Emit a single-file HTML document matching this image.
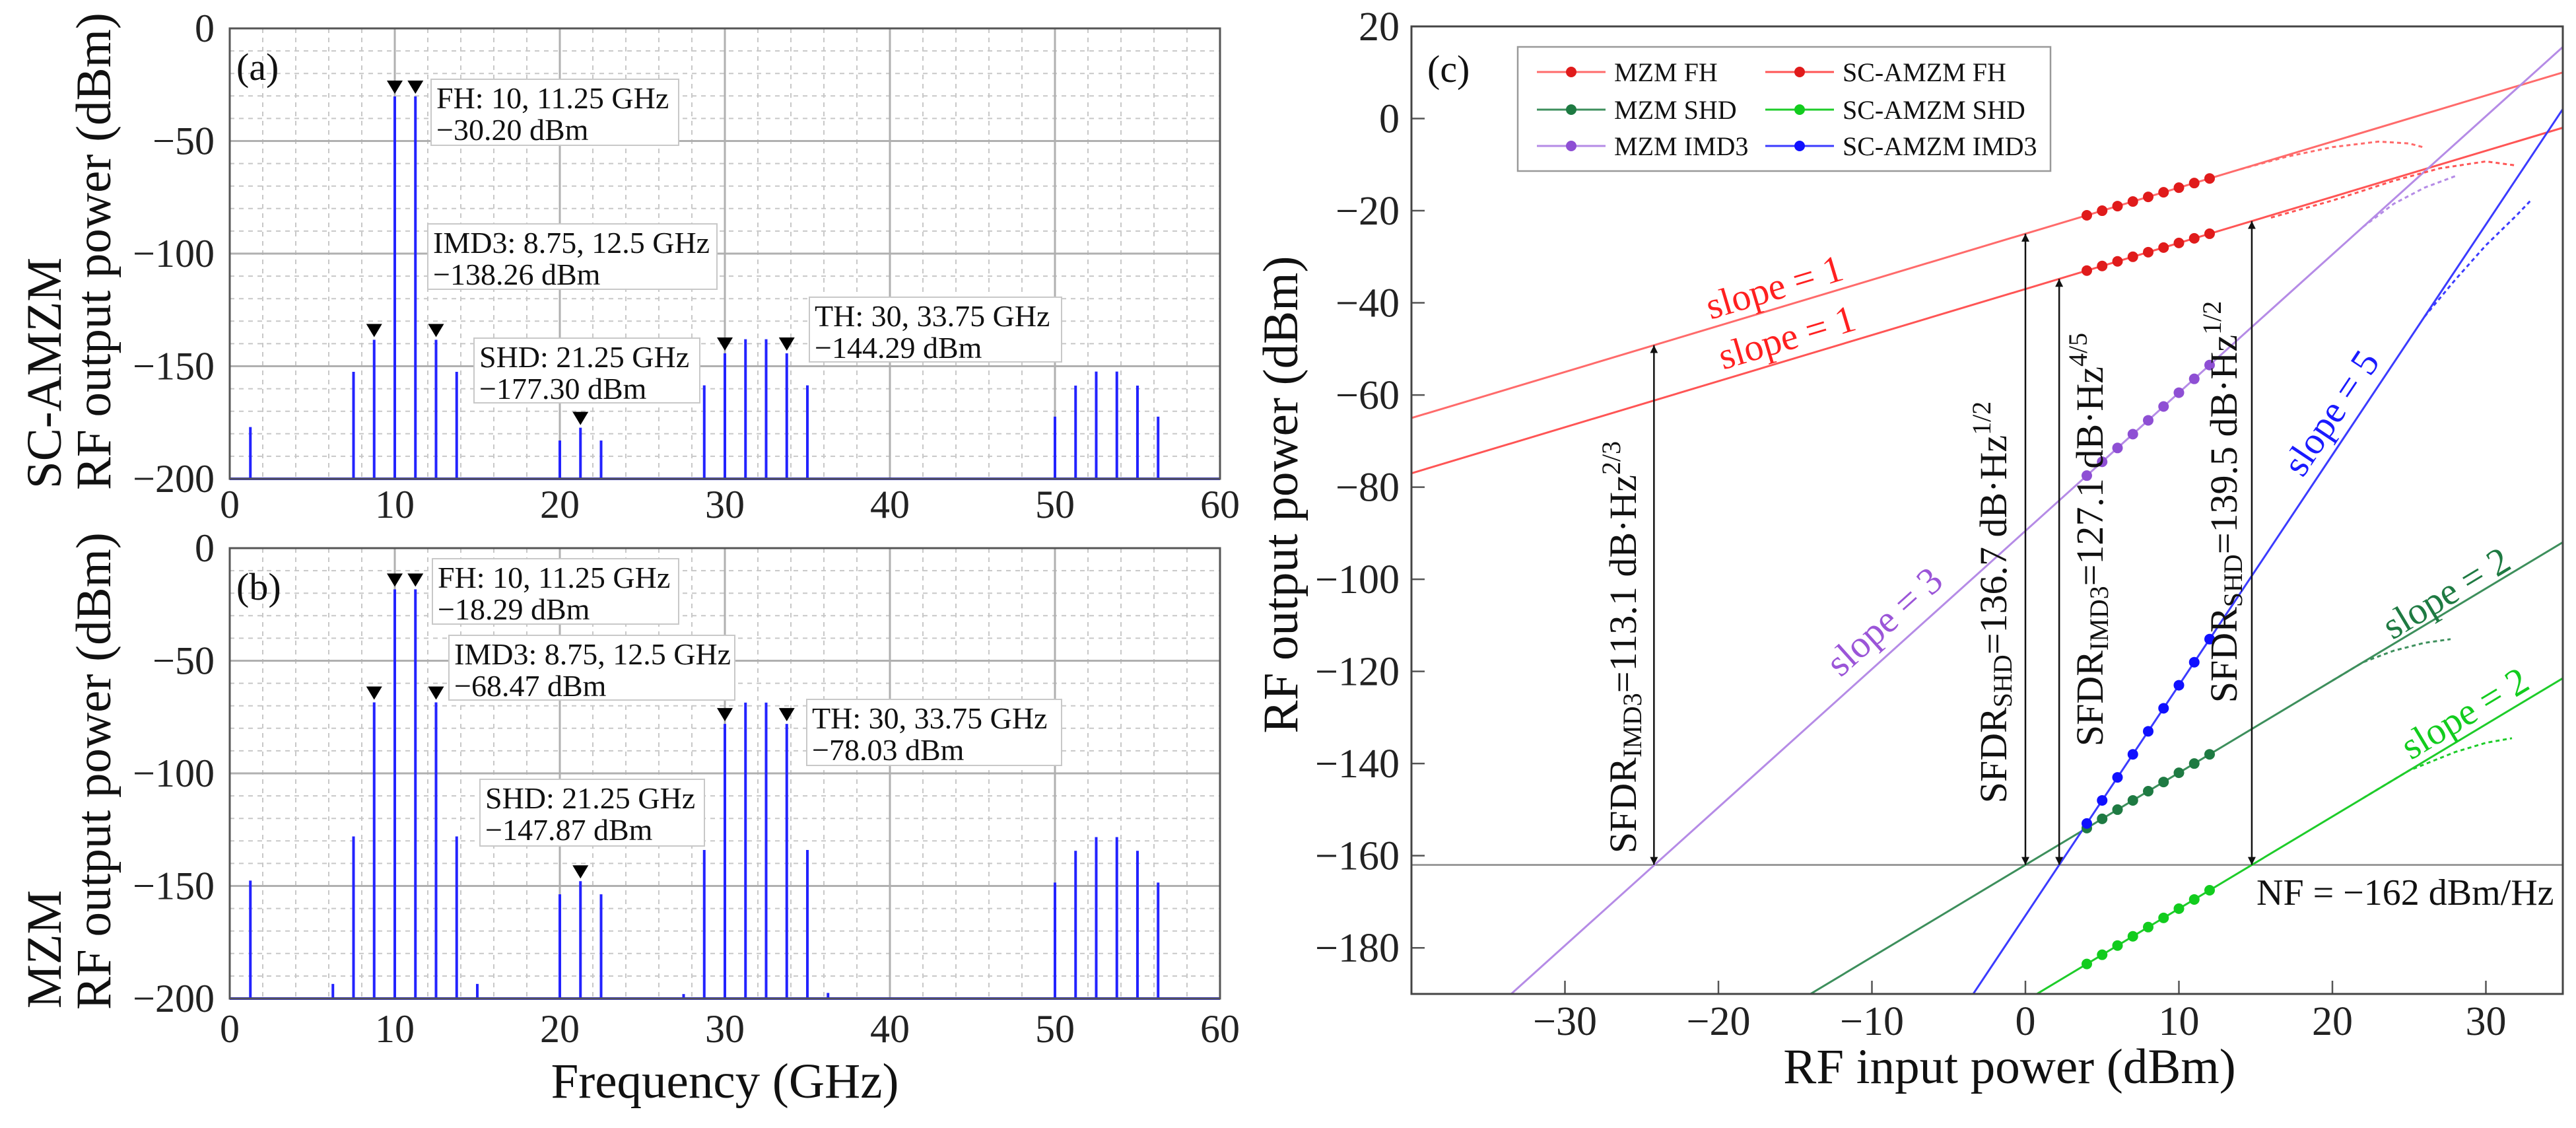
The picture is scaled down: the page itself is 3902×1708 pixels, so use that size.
<!DOCTYPE html>
<html><head><meta charset="utf-8"><style>
html,body{margin:0;padding:0;background:#fff;width:3902px;height:1708px;overflow:hidden;}
svg{display:block;font-family:"Liberation Serif","DejaVu Serif",serif;}
</style></head><body>
<svg id="fig" xmlns="http://www.w3.org/2000/svg" width="3902" height="1708" viewBox="0 0 3902 1708">
<defs>
<clipPath id="clipC"><rect x="2138" y="40" width="1744" height="1465"/></clipPath>
<marker id="arrowEnd" viewBox="0 0 10 10" refX="10" refY="5" markerWidth="12" markerHeight="14" orient="auto-start-reverse" markerUnits="userSpaceOnUse"><path d="M0,0 L10,5 L0,10 z" fill="#111"/></marker>
</defs>
<rect width="3902" height="1708" fill="#fff"/>
<g id="panelA"></g>
<g id="panelB"></g>
<g id="panelC"></g>
</svg>
<script>
// ---------- Panel (a)/(b) data ----------
const specFreqA = [1.25,7.5,8.75,10,11.25,12.5,13.75,20,21.25,22.5,28.75,30,31.25,32.5,33.75,35,50,51.25,52.5,53.75,55,56.25];
const specPowA  = [-177,-152.5,-138.26,-30.2,-30.2,-138.26,-152.5,-183,-177.3,-183,-158.5,-144.29,-138,-138,-144.29,-158.5,-172.4,-158.6,-152.4,-152.4,-158.6,-172.4];
const specFreqB = [1.25,6.25,7.5,8.75,10,11.25,12.5,13.75,15,20,21.25,22.5,27.5,28.75,30,31.25,32.5,33.75,35,36.25,50,51.25,52.5,53.75,55,56.25];
const specPowB  = [-147.6,-193.5,-128,-68.47,-18.29,-18.29,-68.47,-128,-193.5,-153.7,-147.87,-153.7,-198,-134,-78.03,-68.6,-68.6,-78.03,-134,-197.5,-148.5,-134.4,-128.3,-128.3,-134.4,-148.5];
const markerFreqs = [8.75,10,11.25,12.5,21.25,30,33.75];
const specXTicks = [0,10,20,30,40,50,60];
const specYTicks = [0,-50,-100,-150,-200];

// ---------- Panel (c) data ----------
const inXTicks = [-30,-20,-10,0,10,20,30];
const outYTicks = [20,0,-20,-40,-60,-80,-100,-120,-140,-160,-180];
const seriesNames = ["MZM FH","SC-AMZM FH","MZM SHD","SC-AMZM SHD","MZM IMD3","SC-AMZM IMD3"];
const seriesSlopes = [1,1,2,2,3,5];
const seriesIntercepts = [-25,-37,-162,-191.5,-89.5,-173];
const dotInputs = [4,5,6,7,8,9,10,11,12];
const dotsMzmFH   = [-21,-20,-19,-18,-17,-16,-15,-14,-13];
const dotsScFH    = [-33,-32,-31,-30,-29,-28,-27,-26,-25];
const dotsMzmSHD  = [-154,-152,-150,-148,-146,-144,-142,-140,-138];
const dotsScSHD   = [-183.5,-181.5,-179.5,-177.5,-175.5,-173.5,-171.5,-169.5,-167.5];
const dotsMzmIMD3 = [-77.5,-74.5,-71.5,-68.5,-65.5,-62.5,-59.5,-56.5,-53.5];
const dotsScIMD3  = [-153,-148,-143,-138,-133,-128,-123,-118,-113];
const satMzmFHx = [14,17,20,23,25,26];       const satMzmFHy = [-11,-8.3,-6.2,-5.0,-5.4,-6.3];
const satScFHx  = [16,20,24,27,30,32];       const satScFHy  = [-21.5,-17.8,-13.5,-10.8,-9.3,-10.2];
const satMzmIMDx = [22,24,26,28];            const satMzmIMDy = [-23.5,-18.5,-15,-12.5];
const satScIMDx  = [26,28,30,32,33];         const satScIMDy  = [-43,-35,-27.5,-21,-17.5];
const satMzmSHDx = [20,22,24,26,27.7];       const satMzmSHDy = [-122,-118,-115.5,-113.8,-113];
const satScSHDx  = [22,25,28,30,31.7];       const satScSHDy  = [-147.5,-141.5,-137.5,-135.5,-134.5];
const sfdrInputs = [-24.2,0,2.2,14.75];
const sfdrTops = [-49.2,-25,-34.8,-22.25];
const noiseFloor = -162;

const NS = "http://www.w3.org/2000/svg";
function mk(parent, tag, attrs, text){
  const e = document.createElementNS(NS, tag);
  for (const k in attrs) e.setAttribute(k, attrs[k]);
  if (text !== undefined) e.textContent = text;
  parent.appendChild(e);
  return e;
}
function fmt(v){ return v < 0 ? "\u2212" + Math.abs(v) : String(v); }

function spectrum(g, top, freqs, pows, boxes, label, rowLabel, bottomY){
  const x = f => 348 + f * 25;
  const y = v => top + (-v) / 200 * 682;
  const L = 348, R = 1848, T = top, B = top + 682;
  for (let f = 2; f < 60; f += 2) {
    if (f % 10 === 0) continue;
    const l = mk(g, "line", {x1:x(f), x2:x(f), y1:T, y2:B, stroke:"#c8c8c8", "stroke-width":2, "stroke-dasharray":"7 7"});
    
    
  }
  for (let v = -10; v > -200; v -= 10) {
    if (v % 50 === 0) continue;
    const l = mk(g, "line", {x1:L, x2:R, y1:y(v), y2:y(v), stroke:"#c8c8c8", "stroke-width":2, "stroke-dasharray":"7 7"});
    
    
  }
  specXTicks.forEach(f => {
    if (f > 0 && f < 60) {
      const l = mk(g, "line", {x1:x(f), x2:x(f), y1:T, y2:B, stroke:"#b0b0b0", "stroke-width":3});
      
      
    }
    const t = mk(g, "text", {x:x(f), y:bottomY, "text-anchor":"middle", "font-size":60, fill:"#222"}, String(f));
    
    
  });
  specYTicks.forEach(v => {
    if (v < 0 && v > -200) {
      const l = mk(g, "line", {x1:L, x2:R, y1:y(v), y2:y(v), stroke:"#b0b0b0", "stroke-width":3});
      
      
    }
    const t = mk(g, "text", {x:325, y:y(v) + 20, "text-anchor":"end", "font-size":60, fill:"#222"}, fmt(v));
    
    
  });
  freqs.forEach((f, i) => {
    const s = mk(g, "line", {x1:x(f), x2:x(f), y1:B, y2:y(pows[i]), stroke:"#2323ff", "stroke-width":4});
    
    
  });
  const base = mk(g, "line", {x1:L, x2:R, y1:B, y2:B, stroke:"#2323ff", "stroke-width":4});
  
  
  markerFreqs.forEach(f => {
    const i = freqs.indexOf(f);
    const py = y(pows[i]) - 4;
    const p = mk(g, "path", {d:`M${x(f)-12},${py-20} L${x(f)+12},${py-20} L${x(f)},${py} Z`, fill:"#000"});
    
    
  });
  const fr = mk(g, "rect", {x:L, y:T, width:R-L, height:B-T, fill:"none", stroke:"#555", "stroke-width":3});
  
  
  boxes.forEach(b => {
    const bg = mk(g, "g", {});
    
    
    mk(bg, "rect", {x:b.x, y:b.y, width:b.w, height:b.h, fill:"#fff", stroke:"#c8c8c8", "stroke-width":2});
    mk(bg, "text", {x:b.x + 8, y:b.y + 44, "font-size":46, fill:"#111"}, b.l1);
    mk(bg, "text", {x:b.x + 8, y:b.y + 92, "font-size":46, fill:"#111"}, b.l2);
  });
  const pl = mk(g, "text", {x:358, y:top + 78, "font-size":58, fill:"#111"}, label);
  
  
  const t1 = mk(g, "text", {x:0, y:0, "font-size":75, fill:"#111", transform:`translate(92,${top+697}) rotate(-90)`}, rowLabel);
  
  
  const t2 = mk(g, "text", {x:0, y:0, "font-size":75, fill:"#111", transform:`translate(167,${top+699}) rotate(-90)`}, "RF output power (dBm)");
  
  
}

spectrum(document.getElementById("panelA"), 43, specFreqA, specPowA, [
  {name:"fh-annotation", x:653, y:120, w:375, h:100, l1:"FH: 10, 11.25 GHz", l2:"\u221230.20 dBm"},
  {name:"imd3-annotation", x:648, y:339, w:438, h:99, l1:"IMD3: 8.75, 12.5 GHz", l2:"\u2212138.26 dBm"},
  {name:"shd-annotation", x:718, y:512, w:342, h:98, l1:"SHD: 21.25 GHz", l2:"\u2212177.30 dBm"},
  {name:"th-annotation", x:1226, y:450, w:382, h:98, l1:"TH: 30, 33.75 GHz", l2:"\u2212144.29 dBm"}
], "(a)", "SC-AMZM", 784);

spectrum(document.getElementById("panelB"), 830, specFreqB, specPowB, [
  {name:"fh-annotation", x:655, y:846, w:373, h:99, l1:"FH: 10, 11.25 GHz", l2:"\u221218.29 dBm"},
  {name:"imd3-annotation", x:680, y:962, w:433, h:98, l1:"IMD3: 8.75, 12.5 GHz", l2:"\u221268.47 dBm"},
  {name:"shd-annotation", x:727, y:1180, w:340, h:101, l1:"SHD: 21.25 GHz", l2:"\u2212147.87 dBm"},
  {name:"th-annotation", x:1222, y:1059, w:386, h:100, l1:"TH: 30, 33.75 GHz", l2:"\u221278.03 dBm"}
], "(b)", "MZM", 1578);

const gA = document.getElementById("panelB");
const ft = mk(gA, "text", {x:1098, y:1662, "text-anchor":"middle", "font-size":75, fill:"#111"}, "Frequency (GHz)");



(function(){
  const g = document.getElementById("panelC");
  const L = 2138, R = 3882, T = 40, B = 1505;
  const x = p => L + (p + 40) * 23.25;
  const y = v => T + (20 - v) * 6.976;
  const lineCols = ["#ff6b6b","#ff5555","#3d8f5c","#1ecc2a","#b58be6","#3b3bff"];
  const dotCols = ["#e01b1b","#e01b1b","#1e7a42","#12cc1e","#8e4fd4","#1010ff"];
  const clip = mk(g, "g", {"clip-path":"url(#clipC)"});
  
  
  const nf = mk(clip, "line", {x1:L, x2:R, y1:y(noiseFloor), y2:y(noiseFloor), stroke:"#888", "stroke-width":2.5});
  
  
  seriesSlopes.forEach((s, i) => {
    const x0 = -40, x1 = 35;
    const l = mk(clip, "line", {x1:x(x0), y1:y(s*x0 + seriesIntercepts[i]), x2:x(x1), y2:y(s*x1 + seriesIntercepts[i]), stroke:lineCols[i], "stroke-width":3});
    
    
  });
  const sats = [[satMzmFHx,satMzmFHy,0],[satScFHx,satScFHy,1],[satMzmIMDx,satMzmIMDy,4],[satScIMDx,satScIMDy,5],[satMzmSHDx,satMzmSHDy,2],[satScSHDx,satScSHDy,3]];
  sats.forEach(sv => {
    const pts = sv[0].map((xx, k) => x(xx) + "," + y(sv[1][k])).join(" ");
    const pl = mk(clip, "polyline", {points:pts, fill:"none", stroke:lineCols[sv[2]], "stroke-width":3, "stroke-dasharray":"6 5"});
    
    
  });
  const dotSets = [dotsMzmFH, dotsScFH, dotsMzmSHD, dotsScSHD, dotsMzmIMD3, dotsScIMD3];
  dotSets.forEach((ds, i) => {
    ds.forEach((v, k) => {
      const c = mk(clip, "circle", {cx:x(dotInputs[k]), cy:y(v), r:8, fill:dotCols[i]});
      
      
    });
  });
  sfdrInputs.forEach((p, i) => {
    const a = mk(g, "line", {x1:x(p), x2:x(p), y1:y(sfdrTops[i]), y2:y(noiseFloor), stroke:"#111", "stroke-width":2.5, "marker-start":"url(#arrowEnd)", "marker-end":"url(#arrowEnd)"});
    
    
  });
  inXTicks.forEach(p => {
    const t = mk(g, "line", {x1:x(p), x2:x(p), y1:B, y2:B-20, stroke:"#555", "stroke-width":2.5});
    
    
    const lb = mk(g, "text", {x:x(p), y:1567, "text-anchor":"middle", "font-size":62, fill:"#222"}, fmt(p));
    
    
  });
  outYTicks.forEach(v => {
    const t = mk(g, "line", {x1:L, x2:L+20, y1:y(v), y2:y(v), stroke:"#555", "stroke-width":2.5});
    
    
    const lb = mk(g, "text", {x:2120, y:y(v) + 21, "text-anchor":"end", "font-size":62, fill:"#222"}, fmt(v));
    
    
  });
  const fr = mk(g, "rect", {x:L, y:T, width:R-L, height:B-T, fill:"none", stroke:"#444", "stroke-width":3});
  
  
  const slopeLabels = [
    {t:"slope = 1", cx:2688, cy:436, a:-16.7, c:"#ff2020", n:"slope-label-mzm-fh"},
    {t:"slope = 1", cx:2707, cy:512, a:-16.7, c:"#ff2020", n:"slope-label-sc-fh"},
    {t:"slope = 3", cx:2855, cy:942, a:-42, c:"#9b55d8", n:"slope-label-mzm-imd3"},
    {t:"slope = 5", cx:3532, cy:626, a:-56.3, c:"#1a1aff", n:"slope-label-sc-imd3"},
    {t:"slope = 2", cx:3706, cy:899, a:-31, c:"#1e7a42", n:"slope-label-mzm-shd"},
    {t:"slope = 2", cx:3734, cy:1081, a:-31, c:"#12cc1e", n:"slope-label-sc-shd"}
  ];
  slopeLabels.forEach(s => {
    const t = mk(g, "text", {x:0, y:18, "text-anchor":"middle", "font-size":58, fill:s.c, transform:`translate(${s.cx},${s.cy}) rotate(${s.a})`}, s.t);
    
    
  });
  const sfdrTexts = [
    {cx:2458, cy:980, sub:"IMD3", val:"=113.1 dB\u00B7Hz", sup:"2/3"},
    {cx:3019, cy:912, sub:"SHD", val:"=136.7 dB\u00B7Hz", sup:"1/2"},
    {cx:3165, cy:817, sub:"IMD3", val:"=127.1 dB\u00B7Hz", sup:"4/5"},
    {cx:3368, cy:760, sub:"SHD", val:"=139.5 dB\u00B7Hz", sup:"1/2"}
  ];
  sfdrTexts.forEach(s => {
    const t = mk(g, "text", {x:0, y:20, "text-anchor":"middle", "font-size":58, fill:"#111", transform:`translate(${s.cx},${s.cy}) rotate(-90)`});
    
    
    mk(t, "tspan", {}, "SFDR");
    mk(t, "tspan", {"font-size":40, dy:8}, s.sub);
    mk(t, "tspan", {dy:-8}, s.val);
    mk(t, "tspan", {"font-size":40, dy:-24}, s.sup);
  });
  const nft = mk(g, "text", {x:3418, y:1370, "font-size":56, fill:"#111"}, "NF = \u2212162 dBm/Hz");
  
  
  const pc = mk(g, "text", {x:2162, y:124, "font-size":58, fill:"#111"}, "(c)");
  
  
  const lg = mk(g, "g", {});
  
  
  mk(lg, "rect", {x:2299, y:71, width:807, height:188, fill:"#fff", stroke:"#999", "stroke-width":2.5});
  const order = [0,1,2,3,4,5];
  const rows = [109,166,221];
  order.forEach((si, k) => {
    const col = k % 2, row = Math.floor(k / 2);
    const lx = col === 0 ? 2328 : 2674;
    const ry = rows[row];
    const e = mk(lg, "g", {});
    
    
    mk(e, "line", {x1:lx, x2:lx+104, y1:ry, y2:ry, stroke:lineCols[si], "stroke-width":3});
    mk(e, "circle", {cx:lx+52, cy:ry, r:8, fill:dotCols[si]});
    mk(e, "text", {x:lx+117, y:ry+14, "font-size":40, fill:"#111"}, seriesNames[si]);
  });
  const yt = mk(g, "text", {x:0, y:0, "text-anchor":"middle", "font-size":75, fill:"#111", transform:"translate(1965,749) rotate(-90)"}, "RF output power (dBm)");
  
  
  const xt = mk(g, "text", {x:3044, y:1640, "text-anchor":"middle", "font-size":75, fill:"#111"}, "RF input power (dBm)");
  
  
})();
</script>
</body></html>
